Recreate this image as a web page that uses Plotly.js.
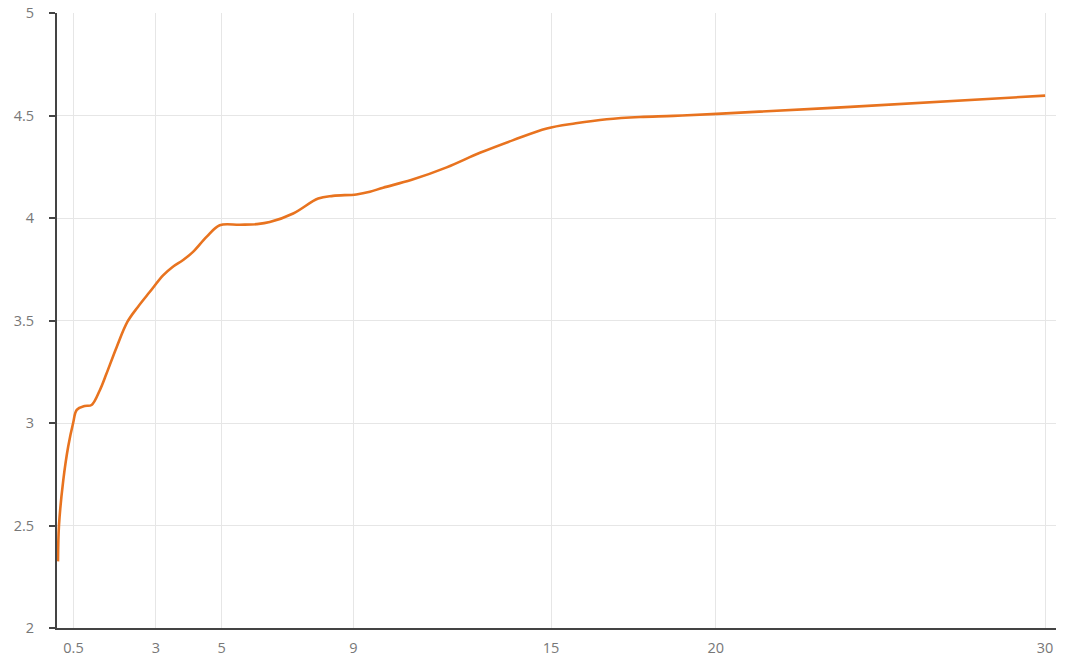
<!DOCTYPE html>
<html>
<head>
<meta charset="utf-8">
<script src="https://cdn.plot.ly/plotly-3.0.1.min.js"></script>
<style>
html,body{margin:0;padding:0;background:#fff;}
#chart{width:1080px;height:671px;}
</style>
</head>
<body>
<div id="chart"></div>
<script>
var xValues = [0.03, 0.06, 0.19, 0.34, 0.49, 0.6, 0.84, 1.05, 1.3, 1.5, 1.81, 2.14, 2.45, 2.82, 3.22, 3.5, 3.83, 4.13, 4.54, 4.94, 5.55, 6.06, 6.46, 7.17, 7.93, 8.38, 9.09, 9.5, 9.9, 10.75, 11.83, 12.84, 13.85, 14.87, 15.75, 16.69, 17.7, 18.71, 20.03, 24.08, 30];
var yValues = [2.325, 2.5, 2.72, 2.885, 3.0, 3.064, 3.083, 3.088, 3.16, 3.24, 3.37, 3.494, 3.565, 3.64, 3.72, 3.76, 3.795, 3.835, 3.908, 3.965, 3.967, 3.97, 3.98, 4.022, 4.095, 4.108, 4.115, 4.128, 4.148, 4.185, 4.247, 4.318, 4.38, 4.437, 4.462, 4.482, 4.493, 4.498, 4.508, 4.542, 4.597];
var xTicks = [0.5, 3, 5, 9, 15, 20, 30];
var xTickLabels = ['0.5', '3', '5', '9', '15', '20', '30'];
var yTicks = [2, 2.5, 3, 3.5, 4, 4.5, 5];
var yTickLabels = ['2', '2.5', '3', '3.5', '4', '4.5', '5'];

var trace = {
  x: xValues,
  y: yValues,
  type: 'scatter',
  mode: 'lines',
  line: {color: '#e8731f', width: 2.6, shape: 'spline', smoothing: 1.0},
  hoverinfo: 'x+y'
};

var layout = {
  width: 1080,
  height: 671,
  margin: {l: 57, r: 24, t: 13, b: 43, pad: 0},
  paper_bgcolor: '#ffffff',
  plot_bgcolor: '#ffffff',
  showlegend: false,
  font: {family: 'Open Sans, Noto Sans, sans-serif', size: 14, color: '#777'},
  xaxis: {
    range: [0, 30.33],
    tickmode: 'array',
    tickvals: xTicks,
    ticktext: xTickLabels,
    ticks: '',
    showgrid: true,
    gridcolor: '#e6e6e6',
    gridwidth: 1,
    zeroline: false,
    showline: true,
    linecolor: '#444',
    linewidth: 2,
    tickfont: {size: 14.5, color: '#777'},
    ticklabelstandoff: 6,
    fixedrange: true
  },
  yaxis: {
    range: [2, 5],
    tickmode: 'array',
    tickvals: yTicks,
    ticktext: yTickLabels,
    ticks: 'outside',
    ticklen: 6,
    tickwidth: 2,
    tickcolor: '#444',
    showgrid: true,
    gridcolor: '#e6e6e6',
    gridwidth: 1,
    zeroline: false,
    showline: true,
    linecolor: '#444',
    linewidth: 2,
    tickfont: {size: 14.5, color: '#777'},
    ticklabelstandoff: 12,
    fixedrange: true
  }
};

Plotly.newPlot('chart', [trace], layout, {displayModeBar: false, staticPlot: true});
</script>
</body>
</html>
